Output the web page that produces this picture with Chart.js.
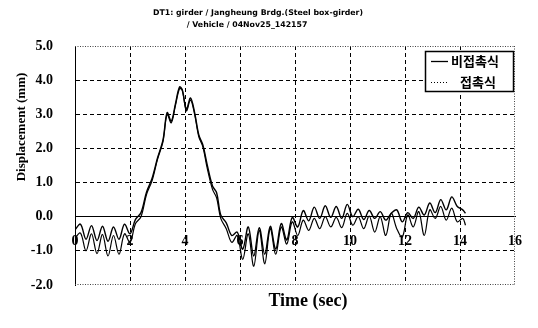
<!DOCTYPE html>
<html>
<head>
<meta charset="utf-8">
<script src="https://cdn.jsdelivr.net/npm/chart.js@4/dist/chart.umd.min.js"></script>
<style>
html,body{margin:0;padding:0;background:#fff;}
#wrap{width:538px;height:328px;}
</style>
</head>
<body>
<div id="wrap"><canvas id="c" width="538" height="328"></canvas></div>
<script>
// ---- data ----
const titleLines = ["DT1: girder / Jangheung Brdg.(Steel box-girder)", "/ Vehicle / 04Nov25_142157"];
const xTitle = "Time (sec)";
const yTitle = "Displacement (mm)";
const seriesNames = ["비접촉식", "접촉식"];
const xTicks = [0, 2, 4, 6, 8, 10, 12, 14, 16];
const yTicks = [-2.0, -1.0, 0.0, 1.0, 2.0, 3.0, 4.0, 5.0];

const time = [0,0.2,0.4,0.6,0.8,1.0,1.2,1.4,1.6,1.8,2.0,2.2,2.4,2.6,2.8,3.0,3.2,3.35,3.5,3.65,3.8,3.9,4.05,4.2,4.35,4.5,4.65,4.8,5.0,5.15,5.3,5.5,5.7,5.9,
  6.1,6.3,6.5,6.7,6.9,7.1,7.3,7.5,7.7,7.9,8.1,8.3,8.5,8.7,8.9,9.1,9.3,9.5,9.7,9.9,10.1,10.3,10.5,10.7,10.9,11.1,11.3,11.5,11.7,11.9,
  12.1,12.3,12.5,12.7,12.9,13.1,13.3,13.5,13.7,13.9,14.1,14.2];

const nonContact = [-0.38,-0.22,-0.66,-0.26,-0.70,-0.28,-0.72,-0.30,-0.66,-0.22,-0.50,-0.08,0.12,0.72,1.12,1.72,2.25,3.05,2.80,3.30,3.80,3.72,3.15,3.48,3.05,2.40,2.10,1.55,0.90,0.70,0.05,-0.18,-0.55,-0.45,
  -0.95,-0.30,-1.15,-0.32,-1.10,-0.28,-0.95,-0.20,-0.68,-0.02,-0.30,0.18,-0.12,0.28,-0.05,0.32,-0.02,0.30,-0.05,0.36,0.00,0.22,-0.08,0.18,-0.05,0.15,-0.10,0.10,0.20,-0.15,
  0.12,-0.05,0.28,0.05,0.40,0.12,0.50,0.20,0.58,0.30,0.20,0.10];

const contact = [-0.62,-0.48,-1.00,-0.50,-1.08,-0.52,-1.15,-0.55,-1.10,-0.50,-0.75,-0.20,0.00,0.65,1.05,1.68,2.20,3.00,2.75,3.25,3.75,3.70,3.10,3.42,3.00,2.35,2.05,1.45,0.80,0.55,-0.05,-0.35,-0.75,-0.55,
  -1.25,-0.50,-1.45,-0.40,-1.38,-0.35,-1.10,-0.30,-0.80,-0.15,-0.55,-0.10,-0.40,-0.05,-0.35,0.00,-0.30,-0.02,-0.32,0.10,-0.25,0.00,-0.35,0.02,-0.45,0.00,-0.55,0.10,-0.35,-0.60,
  0.05,-0.30,0.15,-0.55,0.20,-0.05,0.30,-0.10,0.25,-0.15,-0.05,-0.25];

// ---- chart ----
const toXY = (ys) => ys.map((v, i) => ({x: time[i], y: v}));
const serif = "'Liberation Serif','Times New Roman',serif";
const clear = 'rgba(0,0,0,0)';

const decor = {
  id: 'decor',
  beforeDraw(chart) {
    const c = chart.ctx;
    c.save(); c.fillStyle = '#fff'; c.fillRect(0, 0, chart.width, chart.height); c.restore();
  },
  afterDraw(chart) {
    const c = chart.ctx, a = chart.chartArea;
    c.save();
    // dotted frame (top, right, bottom)
    c.strokeStyle = '#444'; c.lineWidth = 1; c.setLineDash([1, 1.5]);
    c.beginPath();
    c.moveTo(a.left, a.top + 0.5); c.lineTo(a.right, a.top + 0.5);
    c.moveTo(a.right - 0.5, a.top); c.lineTo(a.right - 0.5, a.bottom);
    c.moveTo(a.left, a.bottom - 0.5); c.lineTo(a.right, a.bottom - 0.5);
    c.stroke();
    c.setLineDash([]);
    // titles
    c.fillStyle = '#000'; c.textAlign = 'center'; c.textBaseline = 'middle';
    c.font = "bold 7.8px 'DejaVu Sans', sans-serif";
    c.fillText(titleLines[0], 258, 13);
    c.fillText(titleLines[1], 247, 25);
    c.font = "bold 18px " + serif;
    c.fillText(xTitle, 308, 301);
    c.save();
    c.translate(22, 127); c.rotate(-Math.PI / 2);
    c.font = "bold 13px " + serif;
    c.fillText(yTitle, 0, 0);
    c.restore();
    // legend
    const bx = 425.5, by = 51.5, bw = 88, bh = 40;
    c.fillStyle = '#fff'; c.fillRect(bx, by, bw, bh);
    c.strokeStyle = '#000'; c.lineWidth = 1.5; c.strokeRect(bx, by, bw, bh);
    c.lineWidth = 1.3;
    c.beginPath(); c.moveTo(431, 61.5); c.lineTo(448, 61.5); c.stroke();
    c.lineWidth = 1; c.setLineDash([1, 2]);
    c.beginPath(); c.moveTo(431, 82.5); c.lineTo(449, 82.5); c.stroke();
    c.setLineDash([]);
    c.fillStyle = '#000'; c.textAlign = 'left';
    c.font = "bold 13px 'Noto Sans CJK KR', sans-serif";
    c.fillText(chart.data.datasets[0].label, 451, 61);
    c.fillText(chart.data.datasets[1].label, 460, 82);
    c.restore();
  }
};

new Chart(document.getElementById('c'), {
  type: 'line',
  data: {
    datasets: [
      {label: seriesNames[0], data: toXY(nonContact), borderColor: '#000', borderWidth: 1.4, pointRadius: 0, tension: 0.35, fill: false},
      {label: seriesNames[1], data: toXY(contact), borderColor: '#000', borderWidth: 1.2, pointRadius: 0, tension: 0.35, fill: false}
    ]
  },
  options: {
    responsive: false,
    animation: false,
    devicePixelRatio: 1,
    layout: {padding: {top: 46, right: 17, bottom: 43, left: 0}},
    plugins: {legend: {display: false}, tooltip: {enabled: false}, title: {display: false}},
    scales: {
      x: {
        type: 'linear', min: 0, max: 16,
        position: {y: 0},
        afterBuildTicks: (s) => { s.ticks = xTicks.map(v => ({value: v})); },
        ticks: {
          padding: 16, color: '#000', maxRotation: 0, autoSkip: false,
          font: {family: serif, size: 14, weight: 'bold'},
          callback: (v) => String(v)
        },
        grid: {
          drawTicks: false, lineWidth: 1,
          color: (ctx) => (ctx.tick && (ctx.tick.value === 0 || ctx.tick.value === 16)) ? clear : '#000'
        },
        border: {display: true, color: '#000', width: 1, dash: [4, 3]}
      },
      y: {
        type: 'linear', min: -2, max: 5,
        afterBuildTicks: (s) => { s.ticks = yTicks.map(v => ({value: v})); },
        afterFit: (s) => { s.width = 75; },
        ticks: {
          padding: 22, color: '#000',
          font: {family: serif, size: 14, weight: 'bold'},
          callback: (v) => Number(v).toFixed(1)
        },
        grid: {
          drawTicks: false, lineWidth: 1,
          color: (ctx) => (ctx.tick && (ctx.tick.value === 5 || ctx.tick.value === -2 || ctx.tick.value === 0)) ? clear : '#000'
        },
        border: {display: true, color: '#000', width: 1, dash: [4, 3]}
      }
    }
  },
  plugins: [decor]
});
</script>
</body>
</html>
